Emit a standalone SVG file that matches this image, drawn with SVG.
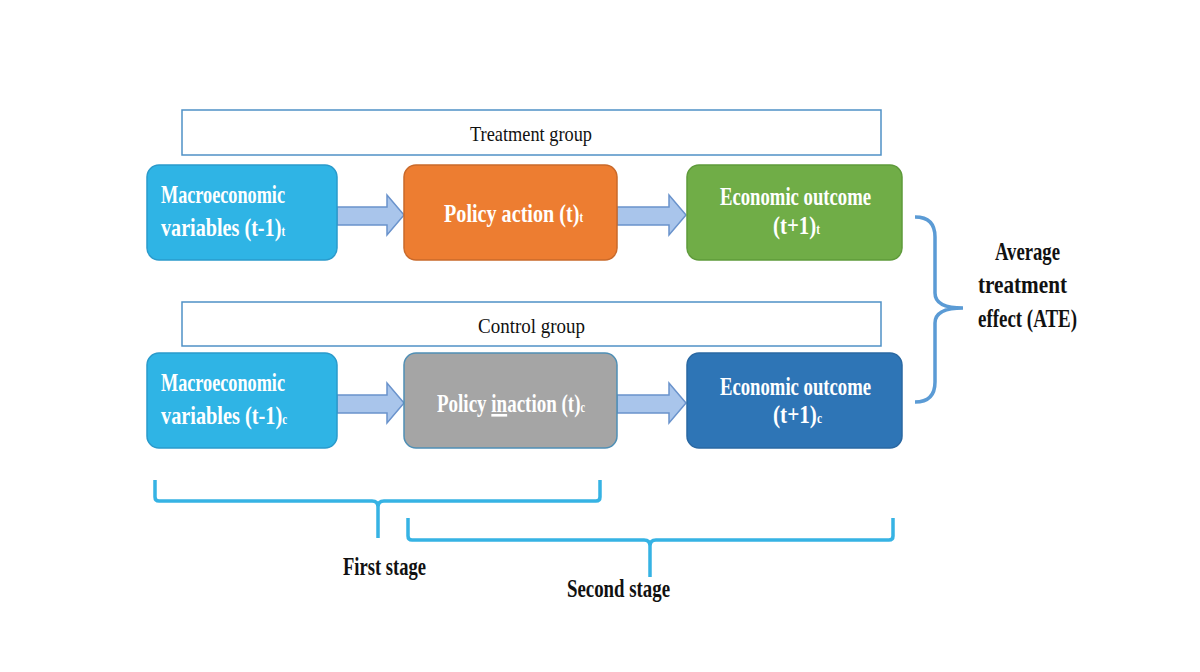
<svg xmlns="http://www.w3.org/2000/svg" width="1200" height="672" viewBox="0 0 1200 672">
<style>
.grp{fill:#fff;stroke:#4F91C6;stroke-width:1.5}
.lbl{font-family:"Liberation Serif","Times New Roman",serif;font-size:22px;fill:#111}
.nt{font-family:"Liberation Serif","Times New Roman",serif;font-size:26px;font-weight:bold;fill:#fff}
.sub{font-size:14px}
.bt{font-family:"Liberation Serif","Times New Roman",serif;font-size:25px;font-weight:bold;fill:#111}
.arr{fill:#A9C5EB;stroke:#6A93CC;stroke-width:1.5}
.br{fill:none;stroke:#36B3E4;stroke-width:3.5;stroke-linejoin:round}
.brr{fill:none;stroke:#5B9BD5;stroke-width:3.5}
</style>
<rect width="1200" height="672" fill="#fff"/>
<g id="treatment-group">
<rect class="grp" x="182" y="110" width="699" height="45"/>
<text class="lbl" x="470" y="141" textLength="122" lengthAdjust="spacingAndGlyphs">Treatment group</text>
</g>
<g id="control-group">
<rect class="grp" x="182" y="302" width="699" height="44"/>
<text class="lbl" x="478" y="333" textLength="107" lengthAdjust="spacingAndGlyphs">Control group</text>
</g>
<g id="connectors">
<path class="arr" d="M337,207 H387 V195 L404,215 L387,235 V225 H337 Z"/>
<path class="arr" d="M617,207 H669 V195 L686,215 L669,235 V225 H617 Z"/>
<path class="arr" d="M337,395 H387 V383 L404,403 L387,423 V413 H337 Z"/>
<path class="arr" d="M617,395 H669 V383 L686,403 L669,423 V413 H617 Z"/>
</g>
<g id="macro-t">
<rect x="147" y="165" width="190" height="95" rx="12" fill="#2FB4E5" stroke="#2A9ACB" stroke-width="1.5"/>
<text class="nt" x="161" y="203" textLength="124" lengthAdjust="spacingAndGlyphs">Macroeconomic</text>
<text class="nt" x="161" y="236" textLength="124" lengthAdjust="spacingAndGlyphs">variables (t-1)<tspan class="sub">t</tspan></text>
</g>
<g id="policy-action">
<rect x="404" y="165" width="213" height="95" rx="12" fill="#ED7D31" stroke="#C9692A" stroke-width="1.5"/>
<text class="nt" x="444" y="222" textLength="139" lengthAdjust="spacingAndGlyphs">Policy action (t)<tspan class="sub">t</tspan></text>
</g>
<g id="outcome-t">
<rect x="687" y="165" width="215" height="95" rx="12" fill="#70AD47" stroke="#5E9A3A" stroke-width="1.5"/>
<text class="nt" x="720" y="205" textLength="151" lengthAdjust="spacingAndGlyphs">Economic outcome</text>
<text class="nt" x="773" y="234" textLength="47" lengthAdjust="spacingAndGlyphs">(t+1)<tspan class="sub">t</tspan></text>
</g>
<g id="macro-c">
<rect x="147" y="353" width="190" height="95" rx="12" fill="#2FB4E5" stroke="#2A9ACB" stroke-width="1.5"/>
<text class="nt" x="161" y="391" textLength="124" lengthAdjust="spacingAndGlyphs">Macroeconomic</text>
<text class="nt" x="161" y="424" textLength="126" lengthAdjust="spacingAndGlyphs">variables (t-1)<tspan class="sub">c</tspan></text>
</g>
<g id="policy-inaction">
<rect x="404" y="353" width="213" height="95" rx="12" fill="#A5A5A5" stroke="#4F8FB5" stroke-width="1.5"/>
<text class="nt" x="437" y="412" textLength="148" lengthAdjust="spacingAndGlyphs">Policy <tspan text-decoration="underline">in</tspan>action (t)<tspan class="sub">c</tspan></text>
</g>
<g id="outcome-c">
<rect x="687" y="353" width="215" height="95" rx="12" fill="#2E75B6" stroke="#2A68A2" stroke-width="1.5"/>
<text class="nt" x="720" y="395" textLength="151" lengthAdjust="spacingAndGlyphs">Economic outcome</text>
<text class="nt" x="773" y="423" textLength="49" lengthAdjust="spacingAndGlyphs">(t+1)<tspan class="sub">c</tspan></text>
</g>
<g id="ate">
<path class="brr" d="M915,217 Q935,217 935,237 V293 Q935,308 963,308 M963,308 Q935,308 935,323 V382 Q935,402 915,402"/>
<text class="bt" x="995" y="260" textLength="65" lengthAdjust="spacingAndGlyphs">Average</text>
<text class="bt" x="978" y="293" textLength="89" lengthAdjust="spacingAndGlyphs">treatment</text>
<text class="bt" x="978" y="327" textLength="99" lengthAdjust="spacingAndGlyphs">effect (ATE)</text>
</g>
<g id="first-stage">
<path class="br" d="M155,480 V497 Q155,501 159,501 H372 Q378,501 378,507 V538 M378,507 Q378,501 384,501 H596 Q600,501 600,497 V480"/>
<text class="bt" x="343" y="575" font-size="23" textLength="83" lengthAdjust="spacingAndGlyphs">First stage</text>
</g>
<g id="second-stage">
<path class="br" d="M408,518 V536 Q408,540 412,540 H644 Q650,540 650,546 V577 M650,546 Q650,540 656,540 H889 Q893,540 893,536 V518"/>
<text class="bt" x="567" y="597" font-size="23" textLength="103" lengthAdjust="spacingAndGlyphs">Second stage</text>
</g>
</svg>
